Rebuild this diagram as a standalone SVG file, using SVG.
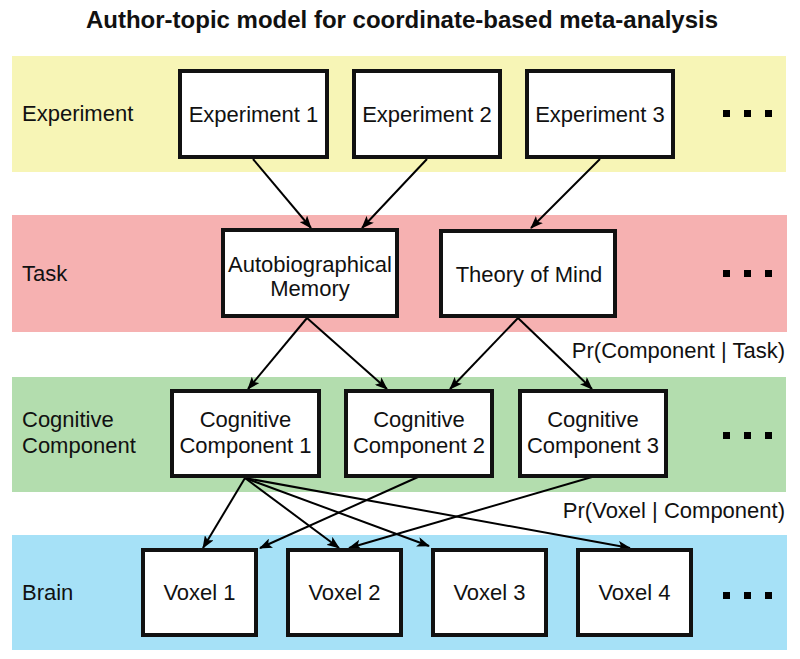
<svg xmlns="http://www.w3.org/2000/svg" width="800" height="659" viewBox="0 0 800 659">
<defs>
<style>
text{font-family:"Liberation Sans",Arial,sans-serif;font-size:22px;fill:#111}
.title{font-weight:bold;font-size:24px;text-anchor:middle}
.c{text-anchor:middle}
.box{fill:#fff;stroke:#111;stroke-width:4}
.edge{stroke:#000;stroke-width:2;fill:none;marker-end:url(#ah)}
.dot{fill:#000}
</style>
<marker id="ah" viewBox="0 0 13 10" refX="12" refY="5" markerWidth="13" markerHeight="10" markerUnits="userSpaceOnUse" orient="auto">
<path d="M0,0 L13,5 L0,10 L3,5 z" fill="#000"/>
</marker>
</defs>
<rect width="800" height="659" fill="#fff"/>
<text class="title" x="402" y="28">Author-topic model for coordinate-based meta-analysis</text>

<g id="bands">
<rect x="12" y="56" width="774" height="116" fill="#f7f5b6"/>
<rect x="12" y="215" width="775" height="117" fill="#f6b1b1"/>
<rect x="12" y="377" width="774" height="115" fill="#b3ddae"/>
<rect x="12" y="535" width="775" height="115" fill="#a6e1f7"/>
</g>

<g id="labels">
<text x="22" y="121">Experiment</text>
<text x="22" y="281">Task</text>
<text x="22" y="427">Cognitive</text>
<text x="22" y="453">Component</text>
<text x="22" y="600">Brain</text>
<text x="785" y="358" text-anchor="end">Pr(Component | Task)</text>
<text x="785" y="518" text-anchor="end">Pr(Voxel | Component)</text>
</g>

<g id="ellipses">
<rect class="dot" x="723" y="110" width="7" height="7"/><rect class="dot" x="744" y="110" width="7" height="7"/><rect class="dot" x="765" y="110" width="7" height="7"/>
<rect class="dot" x="723" y="270" width="7" height="7"/><rect class="dot" x="744" y="270" width="7" height="7"/><rect class="dot" x="765" y="270" width="7" height="7"/>
<rect class="dot" x="723" y="432" width="7" height="7"/><rect class="dot" x="744" y="432" width="7" height="7"/><rect class="dot" x="765" y="432" width="7" height="7"/>
<rect class="dot" x="723" y="592" width="7" height="7"/><rect class="dot" x="744" y="592" width="7" height="7"/><rect class="dot" x="765" y="592" width="7" height="7"/>
</g>

<g id="connectors">
<line class="edge" x1="253" y1="159" x2="311" y2="228"/>
<line class="edge" x1="427" y1="159" x2="362" y2="228"/>
<line class="edge" x1="600" y1="159" x2="531" y2="228"/>
<line class="edge" x1="307" y1="318" x2="248" y2="389"/>
<line class="edge" x1="307" y1="318" x2="387" y2="389"/>
<line class="edge" x1="518" y1="318" x2="450" y2="389"/>
<line class="edge" x1="518" y1="318" x2="592" y2="389"/>
<line class="edge" x1="245" y1="478" x2="203" y2="548"/>
<line class="edge" x1="245" y1="478" x2="339" y2="548"/>
<line class="edge" x1="245" y1="478" x2="429" y2="546"/>
<line class="edge" x1="245" y1="478" x2="630" y2="548"/>
<line class="edge" x1="418" y1="477" x2="260" y2="548"/>
<line class="edge" x1="592" y1="477" x2="349" y2="548"/>
</g>

<g id="exp1"><rect class="box" x="180" y="71" width="147" height="86"/><text class="c" x="253.5" y="122">Experiment 1</text></g>
<g id="exp2"><rect class="box" x="354" y="71" width="146" height="86"/><text class="c" x="427" y="122">Experiment 2</text></g>
<g id="exp3"><rect class="box" x="527" y="71" width="146" height="86"/><text class="c" x="600" y="122">Experiment 3</text></g>

<g id="task-am"><rect class="box" x="223" y="230" width="174" height="86"/><text class="c" x="310" y="272">Autobiographical</text><text class="c" x="310" y="296">Memory</text></g>
<g id="task-tom"><rect class="box" x="441" y="231" width="174" height="85"/><text class="c" x="529" y="282">Theory of Mind</text></g>

<g id="cc1"><rect class="box" x="172" y="391" width="147" height="85"/><text class="c" x="245.5" y="427">Cognitive</text><text class="c" x="245.5" y="453">Component 1</text></g>
<g id="cc2"><rect class="box" x="346" y="391" width="146" height="85"/><text class="c" x="419" y="427">Cognitive</text><text class="c" x="419" y="453">Component 2</text></g>
<g id="cc3"><rect class="box" x="520" y="391" width="146" height="85"/><text class="c" x="593" y="427">Cognitive</text><text class="c" x="593" y="453">Component 3</text></g>

<g id="voxel1"><rect class="box" x="143" y="550" width="113" height="85"/><text class="c" x="199.5" y="600">Voxel 1</text></g>
<g id="voxel2"><rect class="box" x="288" y="550" width="113" height="85"/><text class="c" x="344.5" y="600">Voxel 2</text></g>
<g id="voxel3"><rect class="box" x="433" y="550" width="113" height="85"/><text class="c" x="489.5" y="600">Voxel 3</text></g>
<g id="voxel4"><rect class="box" x="578" y="550" width="113" height="85"/><text class="c" x="634.5" y="600">Voxel 4</text></g>
</svg>
